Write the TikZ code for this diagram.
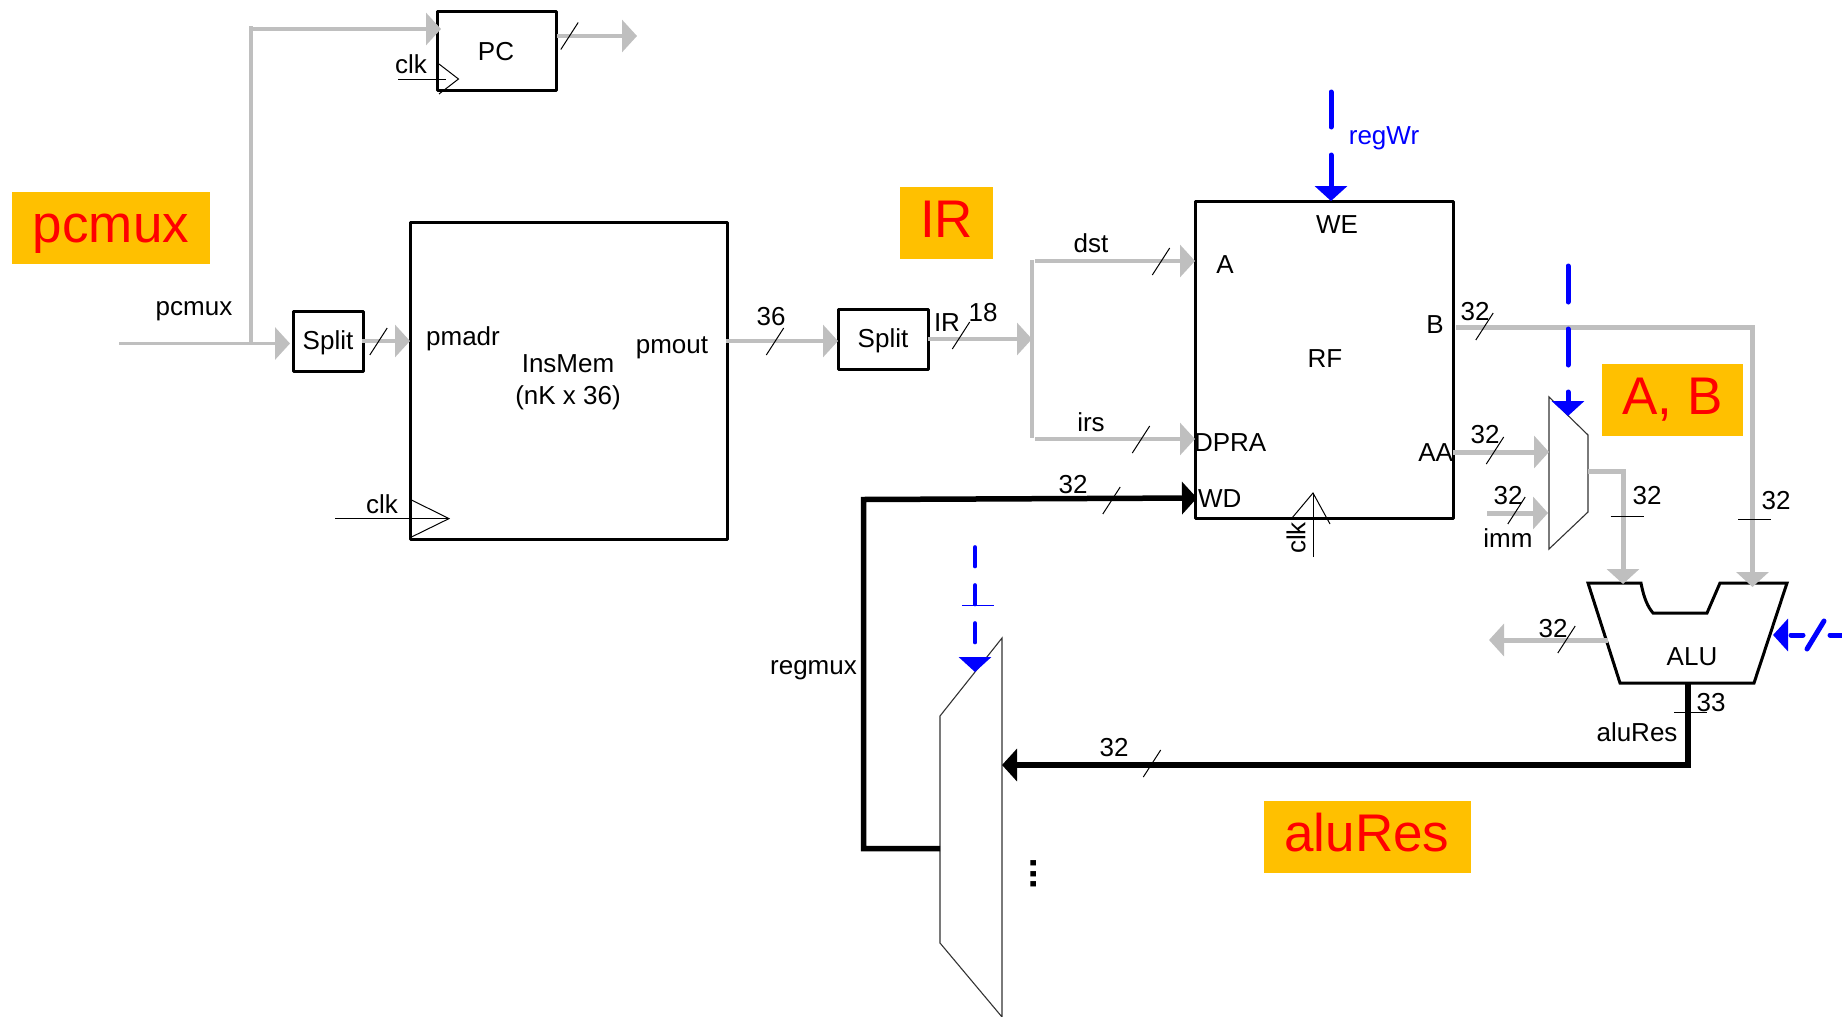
\documentclass[tikz,border=0pt]{standalone}
\usepackage{fontspec}
\setmainfont{Liberation Sans}
\usetikzlibrary{arrows.meta}
\definecolor{wiregrey}{HTML}{BFBFBF}
\definecolor{hiorange}{HTML}{FFC000}
\tikzset{
  blockbox/.style={draw=black,line width=3pt,inner sep=0,outer sep=0,line join=round,fill=white},
  lbl/.style={inner sep=0,outer sep=0,font=\fontsize{26}{30}\selectfont,text=black},
  lblc/.style={lbl,yshift=-1.5pt},
  bluelbl/.style={lbl,text=blue},
  hilite/.style={fill=hiorange,inner sep=0,outer sep=0,text=red,font=\fontsize{53}{60}\selectfont,text height=50pt,text depth=22pt},
  tipg/.style={-{Triangle[length=15pt,width=32pt,color=wiregrey]}},
  tipk/.style={-{Triangle[length=15pt,width=32pt,color=black]}},
  tipb/.style={-{Triangle[length=15pt,width=32pt,color=blue]}},
  greythin/.style={draw=wiregrey,line width=3.3pt},
  greythick/.style={draw=wiregrey,line width=5pt},
  blackbus/.style={draw=black,line width=5.5pt,line join=miter},
  bluesig/.style={draw=blue,line width=5pt,line cap=round},
  slashline/.style={draw=black,line width=1pt},
  muxline/.style={draw=black!80,line width=1.1pt,fill=white,line join=miter},
  clkline/.style={draw=black,line width=1pt},
}
\newcommand{\slashat}[2]{\draw[slashline] (#1,#2) +(-8.7,13.5) -- +(8.7,-13.5);}
\newcommand{\tickat}[2]{\draw[slashline] (#1,#2) +(-16.5,0) -- +(16.5,0);}
\begin{document}
\begin{tikzpicture}[x=1pt,y=-1pt]
\useasboundingbox (0,0) rectangle (1842,1017);
% highlight boxes
\node[hilite,minimum width=198pt,minimum height=72pt] (hpcmux) at (111,228) {pcmux};
\node[hilite,minimum width=93pt,minimum height=72pt] (hir) at (946.5,223) {IR};
\node[hilite,minimum width=141pt,minimum height=72pt] (hab) at (1672.5,400) {A, B};
\node[hilite,minimum width=207pt,minimum height=72pt] (halu) at (1367,837) {aluRes};
% blocks
\node[blockbox,minimum width=119pt,minimum height=78.5pt] (pc) at (496.5,50.75) {};
\node[blockbox,minimum width=70.5pt,minimum height=60pt] (split1) at (328.25,341) {};
\node[blockbox,minimum width=317pt,minimum height=317pt] (insmem) at (568.5,380.5) {};
\node[blockbox,minimum width=90pt,minimum height=60pt] (split2) at (883,339) {};
\node[blockbox,minimum width=258pt,minimum height=317pt] (rf) at (1324,359.5) {};
% muxes and ALU
\draw[muxline] (1549,397) coordinate (muxa1) -- (1588,435) -- (1588,512) coordinate (muxa2) -- (1549,549) -- cycle;
\draw[muxline] (1002,638) -- (940,716) -- (940,943) -- (1002,1017) -- cycle;
\draw[draw=black,line width=3pt,fill=white,line join=miter] (1588,583) -- (1641,583) .. controls (1644,599) and (1648,607) .. (1653,613) -- (1707,613) -- (1720,583) -- (1787,583) -- (1754,683) -- (1620,683) -- cycle;
% ports
\coordinate (pcmuxin) at (119,343.5);
\coordinate (pcmuxj) at (251,343.5);
\coordinate (pctop) at (251,26);
\coordinate (pcinL) at (251,29);
\coordinate (pcinR) at (441,29);
\coordinate (pcoutL) at (557,36);
\coordinate (pcoutR) at (637,36);
\coordinate (split1in) at (290,343.5);
\coordinate (split1out) at (362,341);
\coordinate (imin) at (410,341);
\coordinate (imout) at (726,341);
\coordinate (split2in) at (838,341);
\coordinate (split2out) at (928,339);
\coordinate (irj) at (1032,339);
\coordinate (irtop) at (1032,260);
\coordinate (irbot) at (1032,438);
\coordinate (dstL) at (1035,261);
\coordinate (dstR) at (1195,261);
\coordinate (irsL) at (1035,439);
\coordinate (irsR) at (1195,439);
\coordinate (rfb) at (1456,327);
\coordinate (bcorner) at (1752.5,327);
\coordinate (alub) at (1752.5,587);
\coordinate (rfaa) at (1453,452);
\coordinate (muxaa) at (1549,452);
\coordinate (immL) at (1487,513);
\coordinate (immR) at (1548,513);
\coordinate (muxout) at (1588,471);
\coordinate (muxcorner) at (1623,471);
\coordinate (alua) at (1623,584);
\coordinate (aluoutL) at (1608,640);
\coordinate (aluoutR) at (1489,640);
\coordinate (alubot) at (1688,683);
\coordinate (alucorner) at (1688,765);
\coordinate (muxbin) at (1002,765);
\coordinate (muxbout) at (940,848.5);
\coordinate (wbcornerA) at (863.5,848.5);
\coordinate (wbcornerB) at (863.5,499.5);
\coordinate (rfwd) at (1197,498);
\coordinate (wetop) at (1331,92);
\coordinate (wetip) at (1331,201);
\coordinate (seltopA) at (1568,266);
\coordinate (seltipA) at (1568,416);
\coordinate (seltopB) at (975,547);
\coordinate (seltipB) at (975,672);
\coordinate (alucR) at (1842,635);
\coordinate (alucL) at (1773,635);
% grey wires
\draw[greythin] (pctop) -- (pcmuxj);
\draw[greythin,tipg] (pcinL) -- (pcinR);
\draw[greythin,tipg] (pcoutL) -- (pcoutR);
\draw[greythin,tipg] (pcmuxin) -- (split1in);
\draw[greythin,tipg] (split1out) -- (imin);
\draw[greythin,tipg] (imout) -- (split2in);
\draw[greythin,tipg] (split2out) -- (irj);
\draw[greythin] (irtop) -- (irbot);
\draw[greythin,tipg] (dstL) -- (dstR);
\draw[greythin,tipg] (irsL) -- (irsR);
\draw[greythick,tipg] (rfb) -- (bcorner) -- (alub);
\draw[greythick,tipg] (rfaa) -- (muxaa);
\draw[greythick,tipg] (immL) -- (immR);
\draw[greythick,tipg] (muxout) -- (muxcorner) -- (alua);
\draw[greythick,tipg] (aluoutL) -- (aluoutR);
% black buses
\draw[blackbus,tipk] (alubot) -- (alucorner) -- (muxbin);
\draw[blackbus,tipk] (muxbout) -- (wbcornerA) -- (wbcornerB) -- (rfwd);
% blue controls
\draw[bluesig,tipb,dash pattern=on 35pt off 28pt] (wetop) -- (wetip);
\draw[bluesig,tipb,dash pattern=on 36pt off 27pt] (seltopA) -- (seltipA);
\draw[bluesig,line width=3.6pt,tipb,dash pattern=on 19.5pt off 18.5pt] (seltopB) -- (seltipB);
\draw[bluesig,tipb,dash pattern=on 12pt off 27pt] (alucR) -- (alucL);
\draw[bluesig,line width=5pt] (1807,649) -- (1824,621);
\draw[draw=blue,line width=1pt] (962,605) -- (994,605);
% clocks
\draw[clkline] (398,79) -- (446,79);
\draw[clkline] (439,64) -- (458.5,79) -- (439,94);
\draw[clkline] (335,518.6) -- (449,518.6);
\draw[clkline] (411.5,500) -- (449,518.6) -- (411.5,537);
\draw[clkline] (1313,557) -- (1313,493);
\draw[clkline] (1292,518) -- (1313,493) -- (1330,524);
% bus-width slashes
\slashat{569.5}{36}
\slashat{378.5}{341.5}
\slashat{775}{341.5}
\slashat{961}{335.5}
\slashat{1161}{261.5}
\slashat{1141}{439.5}
\slashat{1484.5}{326.5}
\slashat{1495}{450.5}
\slashat{1516.5}{510.5}
\slashat{1566.5}{639.5}
\slashat{1111.5}{500.5}
\slashat{1152}{763.5}
\tickat{1627}{516}
\tickat{1754.5}{519}
\tickat{1690.5}{712}
% labels
\node[lblc] (tpc) at (496,50) {PC};
\node[lbl,anchor=base] (tclk1) at (411,73) {clk};
\node[lbl,anchor=base] (tpcmux) at (194,315) {pcmux};
\node[lblc] (tsplit1) at (328,341) {Split};
\node[lbl,anchor=base] (tpmadr) at (463,345) {pmadr};
\node[lbl] (tim1) at (568,364) {InsMem};
\node[lblc] (tim2) at (568,396) {(nK x 36)};
\node[lbl,anchor=base] (tpmout) at (672,353) {pmout};
\node[lbl,anchor=base] (tclk2) at (382,513) {clk};
\node[lblc] (t36) at (771,315) {36};
\node[lblc] (tsplit2) at (883,339) {Split};
\node[lblc] (tir) at (947,321) {IR};
\node[lbl] (t18) at (983,313) {18};
\node[lbl] (tdst) at (1091,243) {dst};
\node[lbl] (tirs) at (1091,422) {irs};
\node[bluelbl,anchor=base] (tregwr) at (1384,144) {regWr};
\node[lblc] (twe) at (1337,223) {WE};
\node[lblc] (ta) at (1225,263) {A};
\node[lblc] (tb) at (1435,323) {B};
\node[lblc] (trf) at (1325,357) {RF};
\node[lblc,anchor=west] (tdpra) at (1194,441) {DPRA};
\node[lblc,anchor=east] (taa) at (1453,451) {AA};
\node[lblc,anchor=west] (twd) at (1198,497) {WD};
\node[lbl,rotate=90] (tclk3) at (1296,538) {clk};
\node[lblc] (t32a) at (1475,310) {32};
\node[lblc] (t32b) at (1485,433) {32};
\node[lblc] (t32c) at (1508,494) {32};
\node[lbl,anchor=base] (timm) at (1508,547) {imm};
\node[lblc] (t32d) at (1647,494) {32};
\node[lblc] (t32e) at (1776,499) {32};
\node[lblc] (t32f) at (1553,627) {32};
\node[lblc] (talu) at (1692,655) {ALU};
\node[lblc] (t33) at (1711,701) {33};
\node[lbl,anchor=base] (talures) at (1637,741) {aluRes};
\node[lblc] (t32g) at (1114,746) {32};
\node[lblc] (t32h) at (1073,483) {32};
\node[lbl,anchor=base] (tregmux) at (813.5,674) {regmux};
\node[inner sep=0,outer sep=0,rotate=90,font=\fontsize{38}{40}\selectfont\bfseries] (tdots) at (1033.5,874) {...};
\end{tikzpicture}
\end{document}
